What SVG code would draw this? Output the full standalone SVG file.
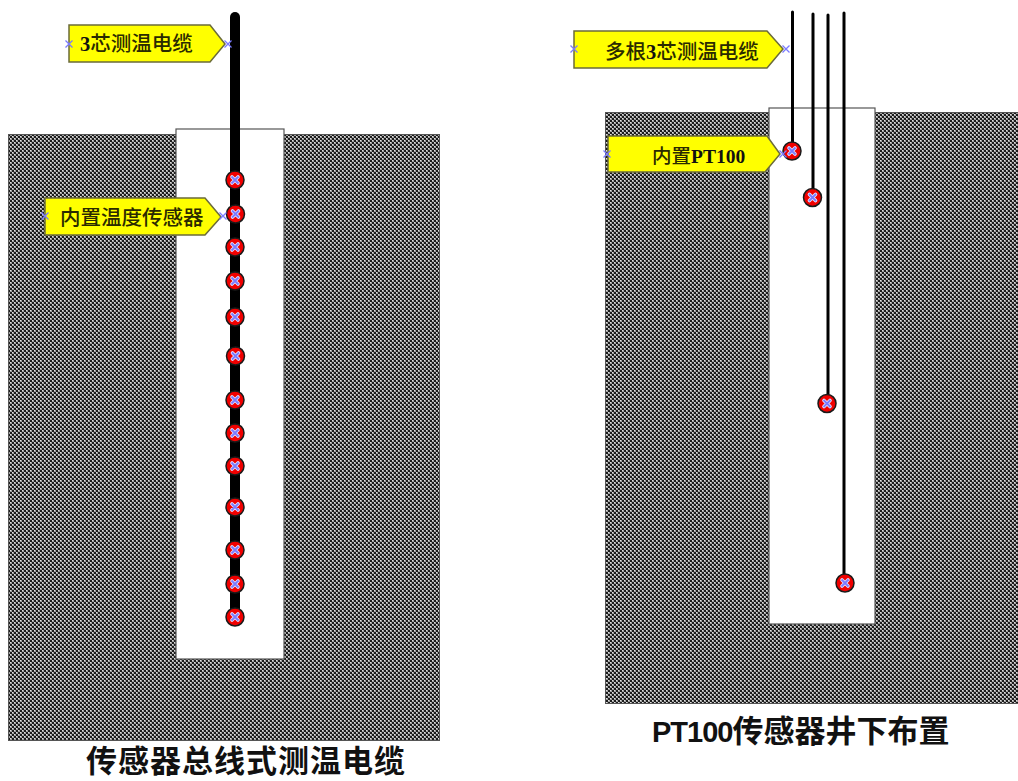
<svg xmlns="http://www.w3.org/2000/svg" width="1018" height="781" viewBox="0 0 1018 781">
<style>
.ground{fill:url(#hatch);stroke:#555;stroke-width:1}
.well{fill:#fff;stroke:#555;stroke-width:1.2}
.tag{fill:#ffff00;stroke:#6b6b3a;stroke-width:1.5}
.lbl{font-family:"Noto Sans CJK SC",sans-serif;font-size:20.500px;font-weight:500;fill:#2a2a00}
.lat{font-family:"Liberation Serif",serif;font-weight:bold;fill:#111}
.cap{font-family:"Noto Sans CJK SC","DejaVu Sans",sans-serif;font-size:31px;font-weight:bold;fill:#111}
.capl{font-family:"Liberation Sans",sans-serif;font-size:29px;font-weight:bold;letter-spacing:-1px}
.wire{stroke:#000;fill:none;stroke-linecap:round}
.sen{fill:#f00000;stroke:#1a1a1a;stroke-width:1.5}
.x{stroke:#7a7aff;stroke-width:1.3;fill:none}
.s1{stroke:#7a7aff;stroke-width:1.8;fill:none}
.w{stroke:#e4e4ff;stroke-width:3.600;fill:none;stroke-linecap:round}
</style>
<defs>
<pattern id="hatch" width="4" height="4" patternUnits="userSpaceOnUse">
<rect width="4" height="4" fill="#1c1c1c"/>
<rect x="0" y="0" width="2" height="2" fill="#a0a0a0"/>
<rect x="2" y="2" width="2" height="2" fill="#a0a0a0"/>
<rect x="0" y="0" width="1" height="1" fill="#e0e0e0"/>
<rect x="2" y="2" width="1" height="1" fill="#e0e0e0"/>
</pattern>
<g id="s"><circle r="9" class="sen"/><path class="w" d="M-3-3L3 3M-3 3L3-3"/><path class="s1" d="M-3.500-3.500L3.500 3.500M-3.500 3.500L3.500-3.500"/></g>
<path id="m" class="x" d="M-3.500-3.500L3.500 3.500M-3.500 3.500L3.500-3.500"/>
</defs>
<g id="ground-left"><rect class="ground" x="8.500" y="134.500" width="431" height="606"/></g>
<g id="well-left"><rect class="well" x="176" y="129" width="108" height="530"/></g>
<g id="ground-right"><rect class="ground" x="605.500" y="112.500" width="413" height="591"/></g>
<g id="well-right"><rect class="well" x="769" y="108" width="106" height="516"/></g>
<g id="connectors">
<path class="wire" stroke-width="10" d="M235 17V617"/>
<path class="wire" stroke-width="3" d="M792.500 12V150M813 14V197M828 15V403M844 13V583"/>
</g>
<g id="sensors-left">
<use href="#s" x="235" y="180"/><use href="#s" x="235.500" y="214"/><use href="#s" x="235" y="247"/><use href="#s" x="235" y="281"/><use href="#s" x="235" y="317"/><use href="#s" x="235.500" y="356"/><use href="#s" x="235" y="400"/><use href="#s" x="235" y="433"/><use href="#s" x="235" y="466"/><use href="#s" x="235" y="507"/><use href="#s" x="235" y="550"/><use href="#s" x="235" y="584"/><use href="#s" x="235" y="617"/>
</g>
<g id="sensors-right">
<use href="#s" x="792" y="151"/><use href="#s" x="812.500" y="197.500"/><use href="#s" x="827" y="403.500"/><use href="#s" x="845" y="583"/>
</g>
<g id="label-cable">
<path class="tag" d="M69 25H210L225 44L210 62H69Z"/>
<text class="lbl" x="80" y="51"><tspan class="lat">3</tspan>芯测温电缆</text>
<use href="#m" x="69" y="44"/><use href="#m" x="228" y="44"/>
</g>
<g id="label-sensor">
<path class="tag" d="M45 198H205L221 217L205 235H45Z"/>
<text class="lbl" x="60" y="224.500">内置温度传感器</text>
<use href="#m" x="45" y="216"/><use href="#m" x="223" y="216"/>
</g>
<g id="label-multi">
<path class="tag" d="M574 31H767L783 49L767 68H574Z"/>
<text class="lbl" x="605" y="59"><tspan>多根</tspan><tspan class="lat">3</tspan>芯测温电缆</text>
<use href="#m" x="574" y="49"/><use href="#m" x="786" y="49"/>
</g>
<g id="label-pt100">
<path class="tag" d="M608 136H767L780 154L765 172H608Z"/>
<text class="lbl" x="652" y="163" style="font-size:19.500px">内置<tspan class="lat">PT100</tspan></text>
<use href="#m" x="607" y="154"/><use href="#m" x="783" y="154"/>
</g>
<g id="captions">
<text class="cap" x="86" y="772" style="letter-spacing:1px">传感器总线式测温电缆</text>
<text class="cap" x="652" y="742"><tspan class="capl">PT100</tspan>传感器井下布置</text>
</g>
</svg>
